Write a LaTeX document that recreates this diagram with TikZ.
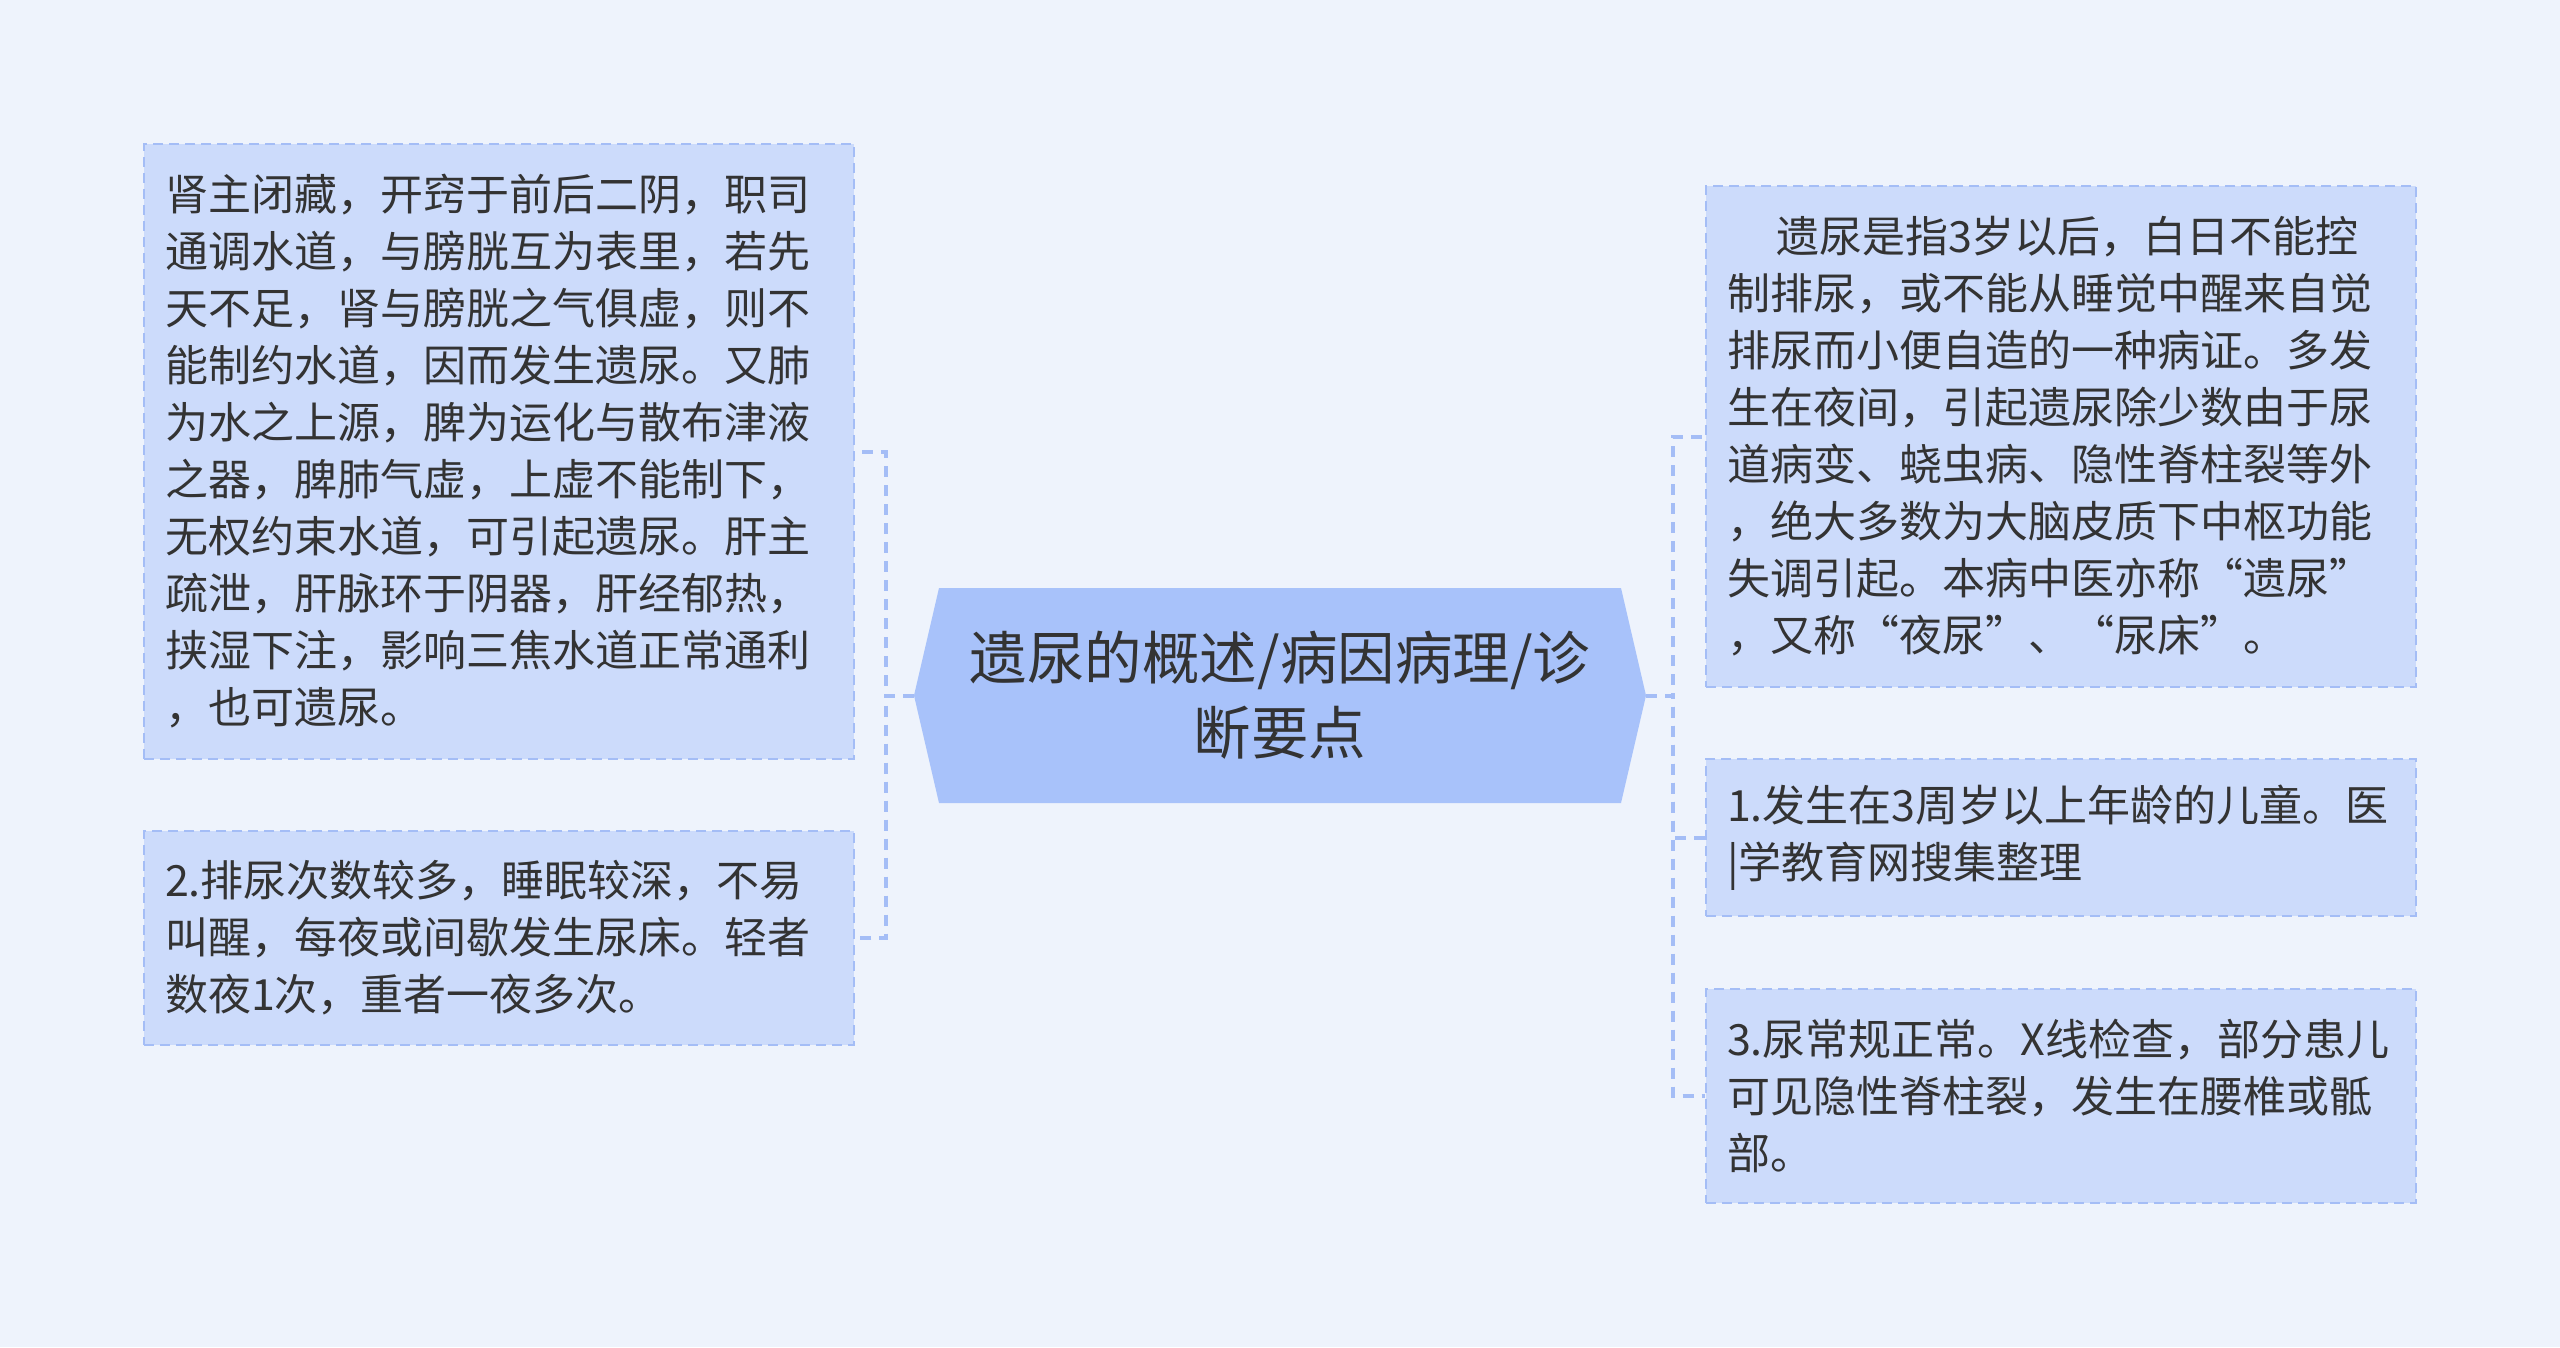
\documentclass[tikz,border=0pt]{standalone}
\usepackage{fontspec}
\newfontfamily\cjk{Noto Sans CJK SC}
\usetikzlibrary{backgrounds}
\definecolor{bgc}{HTML}{EEF3FC}
\definecolor{boxfill}{HTML}{CCDBFB}
\definecolor{boxline}{HTML}{A4BDF6}
\definecolor{cfill}{HTML}{A8C2FA}
\definecolor{txt}{HTML}{333333}
\begin{document}
\begin{tikzpicture}[x=1pt,y=-1pt,
  leaf/.style={draw=boxline, line width=2.6pt, dash pattern=on 10pt off 6pt, fill=boxfill, text=txt,
    font=\cjk\fontsize{43pt}{57pt}\selectfont, align=left, text width=668pt,
    inner xsep=21pt, inner ysep=0pt},
  hub/.style={text=txt, font=\cjk\fontsize{57.5pt}{75pt}\selectfont, align=center,
    minimum width=732pt, minimum height=215pt, inner sep=0pt,
    path picture={\fill[cfill] (path picture bounding box.west)
      -- ([xshift=25pt]path picture bounding box.north west)
      -- ([xshift=-25pt]path picture bounding box.north east)
      -- (path picture bounding box.east)
      -- ([xshift=-25pt]path picture bounding box.south east)
      -- ([xshift=25pt]path picture bounding box.south west) -- cycle;}},
  link/.style={draw=boxline, line width=4pt, dash pattern=on 11pt off 8pt},
]
\fill[bgc] (0,0) rectangle (2560,1347);
\useasboundingbox (0,0) rectangle (2560,1347);

\node[hub] (c) at (1280,695.5) {遗尿的概述/病因病理/诊\\断要点};

\node[leaf, minimum height=615pt] (l1) at (499,451.5) {肾主闭藏，开窍于前后二阴，职司\\通调水道，与膀胱互为表里，若先\\天不足，肾与膀胱之气俱虚，则不\\能制约水道，因而发生遗尿。又肺\\为水之上源，脾为运化与散布津液\\之器，脾肺气虚，上虚不能制下，\\无权约束水道，可引起遗尿。肝主\\疏泄，肝脉环于阴器，肝经郁热，\\挟湿下注，影响三焦水道正常通利\\，也可遗尿。};

\node[leaf, minimum height=214pt] (l2) at (499,938) {2.排尿次数较多，睡眠较深，不易\\叫醒，每夜或间歇发生尿床。轻者\\数夜1次，重者一夜多次。};

\node[leaf, minimum height=501pt] (r1) at (2061,436.5) {\hspace*{49pt}遗尿是指3岁以后，白日不能控\\制排尿，或不能从睡觉中醒来自觉\\排尿而小便自造的一种病证。多发\\生在夜间，引起遗尿除少数由于尿\\道病变、蛲虫病、隐性脊柱裂等外\\，绝大多数为大脑皮质下中枢功能\\失调引起。本病中医亦称“遗尿”\\，又称“夜尿”、“尿床”。};

\node[leaf, minimum height=157pt] (r2) at (2061,837.5) {1.发生在3周岁以上年龄的儿童。医\\|学教育网搜集整理};

\node[leaf, minimum height=214pt] (r3) at (2061,1096) {3.尿常规正常。X线检查，部分患儿\\可见隐性脊柱裂，发生在腰椎或骶\\部。};

\draw[link] (c.west) -- ++(-28,0) |- (l1.east);
\draw[link] (c.west) -- ++(-28,0) |- (l2.east);
\draw[link] (c.east) -- ++(27,0) |- (r1.west);
\draw[link] (c.east) -- ++(27,0) |- (r2.west);
\draw[link] (c.east) -- ++(27,0) |- (r3.west);
\end{tikzpicture}
\end{document}
